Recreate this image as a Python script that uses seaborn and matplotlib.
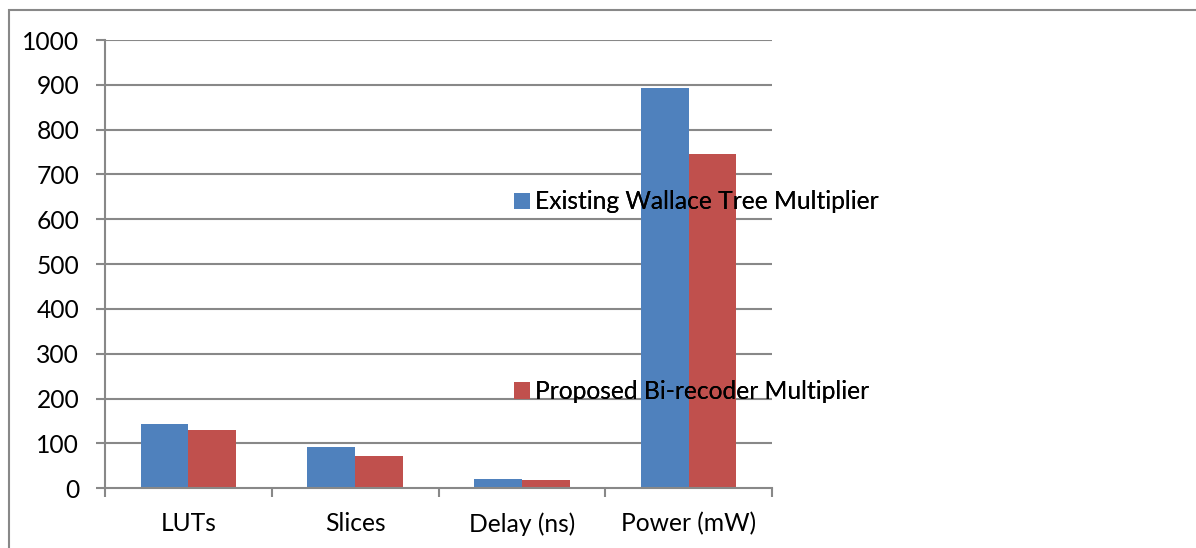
import matplotlib
matplotlib.use("Agg")
import matplotlib.pyplot as plt
from matplotlib.patches import Rectangle
import seaborn as sns
import pandas as pd

# Synthesis results for the two multiplier designs
metrics = ["LUTs", "Slices", "Delay (ns)", "Power (mW)"]
existing_wallace = [143, 92, 20, 893]
proposed_birecoder = [130, 71, 18, 745]
series_names = ["Existing Wallace Tree Multiplier", "Proposed Bi-recoder Multiplier"]
y_ticks = [0, 100, 200, 300, 400, 500, 600, 700, 800, 900, 1000]

df = pd.DataFrame({
    "metric": metrics * 2,
    "value": existing_wallace + proposed_birecoder,
    "series": [series_names[0]] * len(metrics) + [series_names[1]] * len(metrics),
})

sns.set_theme(style="white")
plt.rcParams["font.family"] = ["Lato", "DejaVu Sans"]
plt.rcParams["text.color"] = "black"

FS = 17.7
W, H = 1196, 548
fig = plt.figure(figsize=(W / 100, H / 100), dpi=100)
ax = fig.add_axes([105 / W, 1 - 488.3 / H, (772 - 105) / W, (488.3 - 40) / H])

grey = "#888888"
sns.barplot(data=df, x="metric", y="value", hue="series", order=metrics,
            hue_order=series_names, palette=["#4F81BD", "#C0504D"],
            width=0.573, gap=0, saturation=1, ax=ax, legend=True,
            edgecolor="none", linewidth=0)

ax.set_xlim(-0.5, 3.5)
ax.set_ylim(0, 1000)
ax.set_yticks(y_ticks)
ax.set_yticklabels([str(v) for v in y_ticks])
for v in y_ticks[1:]:
    ax.axhline(v, color=grey, lw=1.5, zorder=0)

for side in ["top", "right"]:
    ax.spines[side].set_visible(False)
for side in ["left", "bottom"]:
    ax.spines[side].set_color(grey)
    ax.spines[side].set_linewidth(1.5)

ax.set_xlabel("")
ax.set_ylabel("")
ax.set_xticks([-0.5, 0.5, 1.5, 2.5, 3.5], minor=True)
ax.tick_params(axis="x", which="major", length=0, pad=17, labelsize=FS,
               labelcolor="black")
ax.tick_params(axis="x", which="minor", length=6.5, width=1.5, color=grey,
               direction="out", bottom=True)
ax.tick_params(axis="y", length=6.5, width=1.5, color=grey, direction="out",
               left=True, pad=12, labelsize=FS, labelcolor="black")

handles, labels = ax.get_legend_handles_labels()
ax.get_legend().remove()
for h, lab, yc in zip(handles, labels, [202, 391.5]):
    leg = fig.legend([h], [lab], loc="center left",
                     bbox_to_anchor=(514 / W, 1 - yc / H),
                     frameon=False, fontsize=FS, labelcolor="black",
                     handlelength=0.65, handleheight=0.65, handletextpad=0.2,
                     borderpad=0, borderaxespad=0)
    fig.add_artist(leg)

# Outer chart-area border
fig.add_artist(Rectangle((8.5 / W, -0.1), 1.2, 1 - 10.5 / H + 0.1,
                         transform=fig.transFigure, fill=False,
                         edgecolor=grey, linewidth=1.5))

fig.savefig("out.png", dpi=100)
